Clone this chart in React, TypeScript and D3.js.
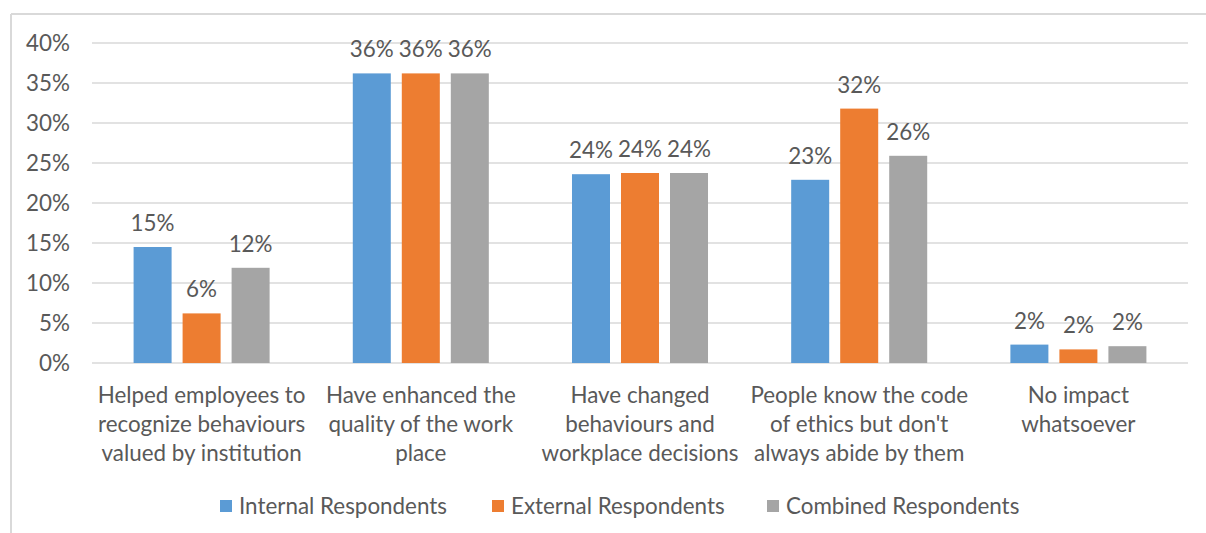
import React from "react";
import * as d3 from "d3";

const categories: string[][] = [
  ["Helped employees to", "recognize behaviours", "valued by institution"],
  ["Have enhanced the", "quality of the work", "place"],
  ["Have changed", "behaviours and", "workplace decisions"],
  ["People know the code", "of ethics but don't", "always abide by them"],
  ["No impact", "whatsoever"],
];
const seriesNames = ["Internal Respondents", "External Respondents", "Combined Respondents"];
const internalValues = [14.5, 36.2, 23.6, 22.9, 2.3];
const externalValues = [6.2, 36.2, 23.75, 31.8, 1.7];
const combinedValues = [11.9, 36.2, 23.75, 25.9, 2.1];
const yTicks = [0, 5, 10, 15, 20, 25, 30, 35, 40];
const colors = ["#5B9BD5", "#ED7D31", "#A5A5A5"];

const W = 1206;
const H = 533;
const FONT = "Lato, 'Open Sans', sans-serif";
const FS = 22.4;
const TEXT = "#595959";

export default function App() {
  const plot = { left: 92, right: 1188, top: 43, bottom: 363 };
  const series = [internalValues, externalValues, combinedValues];
  const idx = categories.map((_, i) => i);
  const x0 = d3.scaleBand<number>().domain(idx).range([plot.left, plot.right]).padding(0);
  const x1 = d3
    .scaleBand<number>()
    .domain([0, 1, 2])
    .range([-73.5, 73.5])
    .paddingInner(0.2245)
    .paddingOuter(0.112);
  const y = d3.scaleLinear().domain([0, 40]).range([plot.bottom, plot.top]);

  const legendX = [220, 492, 767];

  return (
    <svg
      width={W}
      height={H}
      style={{ position: "absolute", left: 0, top: 0, background: "#fff" }}
      fontFamily={FONT}
    >
      <rect x={0} y={0} width={W} height={H} fill="#fff" />
      {/* chart border */}
      <line x1={11} x2={W} y1={14} y2={14} stroke="#d9d9d9" strokeWidth={2} />
      <line x1={11} x2={11} y1={14} y2={H} stroke="#d9d9d9" strokeWidth={2} />

      {/* gridlines and y tick labels */}
      {yTicks.map((t) => (
        <g key={t}>
          <line
            x1={plot.left}
            x2={plot.right}
            y1={y(t)}
            y2={y(t)}
            stroke="#d9d9d9"
            strokeWidth={1.3}
          />
          <text x={70} y={y(t) + 8} textAnchor="end" fontSize={FS} fill={TEXT}>
            {t}%
          </text>
        </g>
      ))}

      {/* bars */}
      {series.map((vals, s) =>
        vals.map((v, i) => {
          const cx = (x0(i) as number) + x0.bandwidth() / 2;
          const bx = cx + (x1(s) as number);
          return (
            <g key={`${s}-${i}`}>
              <rect
                x={bx}
                y={y(v)}
                width={x1.bandwidth()}
                height={y(0) - y(v)}
                fill={colors[s]}
              />
              <text
                x={bx + x1.bandwidth() / 2}
                y={y(v) - 16}
                textAnchor="middle"
                fontSize={FS}
                fill={TEXT}
              >
                {Math.round(v)}%
              </text>
            </g>
          );
        })
      )}

      {/* category labels */}
      {categories.map((lines, i) => {
        const cx = (x0(i) as number) + x0.bandwidth() / 2;
        return (
          <text key={i} textAnchor="middle" fontSize={FS} fill={TEXT}>
            {lines.map((l, j) => (
              <tspan key={j} x={cx} y={403 + j * 29}>
                {l}
              </tspan>
            ))}
          </text>
        );
      })}

      {/* legend */}
      {seriesNames.map((name, s) => (
        <g key={name} transform={`translate(${legendX[s]},0)`}>
          <rect x={0} y={500} width={12} height={12} fill={colors[s]} />
          <text x={19} y={514} fontSize={FS} fill={TEXT}>
            {name}
          </text>
        </g>
      ))}
    </svg>
  );
}
